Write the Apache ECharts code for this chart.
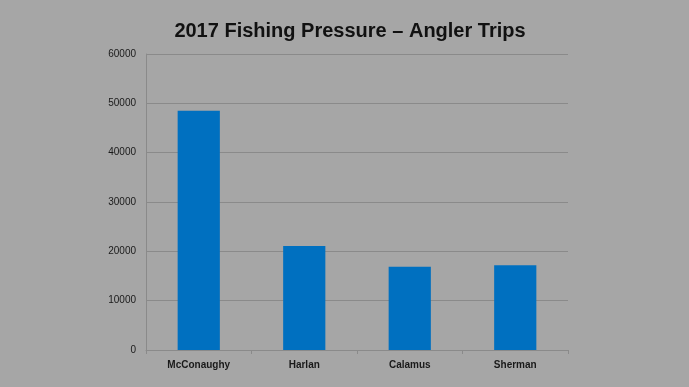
<!DOCTYPE html>
<html>
<head>
<meta charset="utf-8">
<style>
  html, body { margin: 0; padding: 0; background: #a6a6a6; }
  #chart { width: 689px; height: 387px; }
</style>
<script src="https://cdn.jsdelivr.net/npm/echarts@6/dist/echarts.min.js"></script>
</head>
<body>
<div id="chart"></div>
<script>
// Angler trips by reservoir, 2017
const lakes = ['McConaughy', 'Harlan', 'Calamus', 'Sherman'];
const anglerTrips = [48500, 21100, 16900, 17200];

const chart = echarts.init(document.getElementById('chart'));
chart.setOption({
  backgroundColor: '#a6a6a6',
  animation: false,
  title: {
    text: '2017 Fishing Pressure \u2013 Angler Trips',
    left: 345,
    textAlign: 'center',
    top: 16,
    textStyle: { fontFamily: 'Liberation Sans, Arial, sans-serif', fontSize: 20, fontWeight: 'bold', color: '#111' }
  },
  grid: { left: 146, right: 121, top: 54, bottom: 37 },
  xAxis: {
    type: 'category',
    data: lakes,
    axisLine: { lineStyle: { color: '#8a8a8a', width: 1 } },
    axisTick: { show: true, length: 4, lineStyle: { color: '#8a8a8a' } },
    axisLabel: { fontFamily: 'Liberation Sans, Arial, sans-serif', fontSize: 10, fontWeight: 'bold', color: '#1a1a1a', margin: 10 }
  },
  yAxis: {
    type: 'value',
    min: 0,
    max: 60000,
    interval: 10000,
    axisLine: { show: true, lineStyle: { color: '#8a8a8a' } },
    axisTick: { show: false },
    splitLine: { lineStyle: { color: '#8a8a8a', width: 1 } },
    axisLabel: {
      fontFamily: 'Liberation Sans, Arial, sans-serif',
      fontSize: 10,
      color: '#1a1a1a',
      margin: 10,
      formatter: v => String(v)
    }
  },
  series: [{
    type: 'bar',
    data: anglerTrips,
    barWidth: '40%',
    itemStyle: { color: '#0070c0' }
  }]
});
</script>
</body>
</html>
